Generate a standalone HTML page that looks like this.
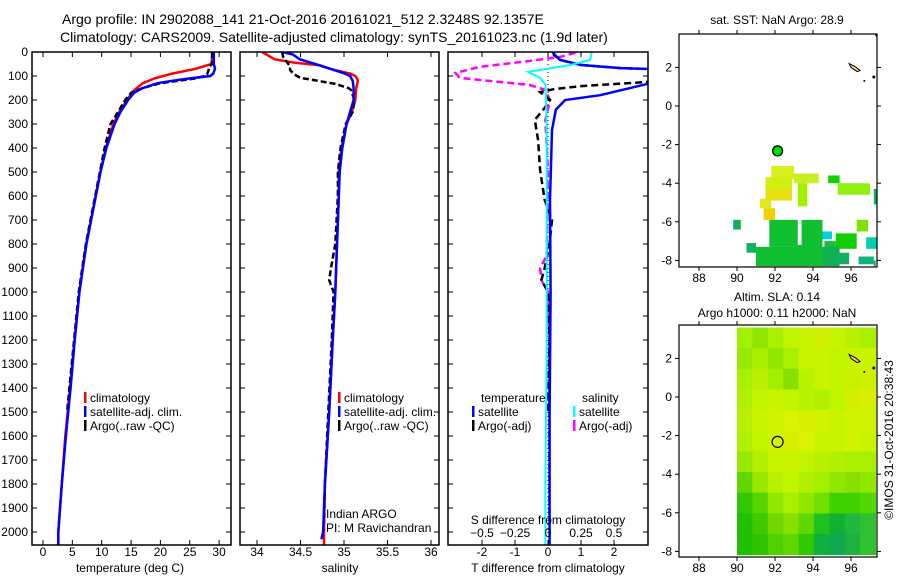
<!DOCTYPE html>
<html><head><meta charset="utf-8">
<style>
html,body{margin:0;padding:0;background:#fff;}
svg{display:block;font-family:"Liberation Sans",sans-serif;}
text{fill:#000;}
</style></head>
<body>
<svg id="fig" width="900" height="580" viewBox="0 0 900 580" xmlns="http://www.w3.org/2000/svg">
<text x="62" y="24" font-size="14">Argo profile: IN 2902088_141 21-Oct-2016 20161021_512 2.3248S 92.1357E</text>
<text x="60" y="42" font-size="14">Climatology: CARS2009. Satellite-adjusted climatology: synTS_20161023.nc (1.9d later)</text>
<g id="g1"></g>
<g id="g2"></g>
<g id="g3"></g>
<g id="m1"></g>
<g id="m2"></g>
<text x="777" y="24" font-size="12" text-anchor="middle">sat. SST: NaN Argo: 28.9</text>
<text x="777" y="301" font-size="12" text-anchor="middle">Altim. SLA: 0.14</text>
<text x="777" y="317" font-size="12" text-anchor="middle">Argo h1000: 0.11 h2000: NaN</text>
<text transform="translate(893,440) rotate(-90)" font-size="12" text-anchor="middle">©IMOS 31-Oct-2016 20:38:43</text>
</svg>
<script>
// ---- depth ticks ----
const depthTicks = [0,100,200,300,400,500,600,700,800,900,1000,1100,1200,1300,1400,1500,1600,1700,1800,1900,2000];
// ---- temperature panel data ----
const tempTicks = [0,5,10,15,20,25,30];
const tClimDepth = [0,50,70,90,110,130,160,200,250,300,400,500,600,700,800,900,1000,1200,1400,1600,1800,2000,2055];
const tClimVal   = [28.9,28.7,26,22,19,17,15.5,14.3,13,12,10.7,9.8,9.0,8.2,7.4,6.8,6.2,5.4,4.6,3.8,3.2,2.6,2.6];
const tSatDepth  = [0,50,70,90,100,110,120,130,150,170,200,250,300,400,500,600,700,800,900,1000,1200,1400,1600,1800,2000,2055];
const tSatVal    = [29.1,29.1,29.3,29.0,28.5,25,22,19.5,17,15.5,14.5,13.2,12.2,10.8,9.8,9.0,8.2,7.4,6.8,6.2,5.4,4.7,3.9,3.2,2.6,2.6];
const tArgoDepth = [0,50,60,90,100,110,120,130,150,170,200,250,300,400,500,600,700,800,900,1000,1200,1400,1500];
const tArgoVal   = [28.8,28.8,28.4,28.0,27.5,26,23,20,17,15,14,12.8,11.5,10.5,9.7,8.9,8.1,7.3,6.7,6.1,5.3,4.5,4.1];
// ---- salinity panel data ----
const salTicks = [34,34.5,35,35.5,36];
const sClimDepth = [0,30,45,55,70,80,90,100,110,120,150,200,250,300,400,500,600,800,1000,1200,1500,1800,2000,2055];
const sClimVal   = [34.06,34.2,34.44,34.72,34.84,34.95,35.07,35.13,35.15,35.16,35.14,35.13,35.09,35.03,34.97,34.94,34.94,34.92,34.9,34.87,34.83,34.78,34.77,34.77];
const sSatDepth  = [0,10,30,50,70,90,100,120,150,200,300,400,500,600,800,1000,1200,1500,1800,2000,2030];
const sSatVal    = [34.29,34.41,34.49,34.67,34.84,35.01,35.07,35.10,35.11,35.11,35.03,34.98,34.95,34.94,34.92,34.9,34.87,34.83,34.78,34.76,34.74];
const sArgoDepth = [0,20,40,60,75,90,100,108,120,133,150,158,200,250,300,400,500,600,800,900,950,1000,1200,1500,1800,1950];
const sArgoVal   = [34.29,34.3,34.34,34.38,34.38,34.42,34.46,34.5,34.7,34.9,35.05,35.08,35.12,35.1,35.02,34.96,34.93,34.93,34.9,34.85,34.83,34.88,34.86,34.82,34.78,34.77];
// ---- difference panel data ----
const tDiffTicks = [-2,-1,0,1,2];
const sDiffTicks = [-0.5,-0.25,0,0.25,0.5];
const dTSatDepth = [0,4,33,54,67,75,100,130,180,200,240,325,617,1000,1500,2055];
const dTSatVal   = [0.15,0.15,0.36,1,2.2,4,4,3.1,1.58,0.52,0.24,0.12,0.06,0.08,0.05,0.05];
const dTArgoDepth= [0,12,33,54,67,75,100,125,142,154,167,200,233,283,367,492,617,700,800,900,950,1000,1200,1500];
const dTArgoVal  = [0.18,0.18,0.36,1,2.2,4,4,3.0,1.0,0.2,-0.24,0.06,-0.1,-0.4,-0.3,-0.24,-0.1,0.12,0.05,-0.1,-0.2,0.0,0.05,0.0];
const dSSatDepth = [0,4,33,54,75,83,108,137,200,300,800,1200,1800,2055];
const dSSatVal   = [0.33,0.33,0.32,0.17,-0.06,-0.15,-0.06,-0.02,-0.015,-0.01,-0.01,-0.01,-0.02,-0.02];
const dSArgoDepth= [0,4,21,42,62,87,108,125,137,158,200,283,500,850,900,950,1000,1200,1500,1950];
const dSArgoVal  = [0.2,0.2,0.09,-0.21,-0.52,-0.7,-0.67,-0.36,-0.14,-0.02,0.015,-0.02,0.0,-0.01,-0.06,-0.05,0.0,0.01,0.01,0.01];
// ---- maps ----
const lonTicks = [88,90,92,94,96];
const latTicks = [2,0,-2,-4,-6,-8];
const argoLon = 92.1357, argoLat = -2.3248;
// SST patches: [lonW, latN, width(deg), height(deg), color]
const sstLon = [91.8,91.5,93.0,93.2,94.8,95.3,91.5,91.2,97.2,91.4,89.8,91.7,93.4,94.5,95.2,96.3,94.6,96.8,90.5,91.0,93.0,94.5,95.2,96.4,97.2];
const sstLat = [-3.1,-3.7,-3.5,-4.0,-3.6,-4.0,-4.3,-4.8,-4.3,-5.3,-5.9,-5.9,-5.9,-6.5,-6.6,-5.9,-7.0,-6.8,-7.1,-7.3,-7.2,-7.3,-7.6,-7.8,-8.0];
const sstW   = [1.2,1.4,1.3,0.5,0.6,1.7,1.4,0.6,0.2,0.6,0.4,1.5,1.1,0.5,1.1,0.6,0.6,0.6,0.5,2.0,1.5,0.9,0.7,0.8,0.1];
const sstH   = [0.7,0.6,0.5,1.2,0.4,0.6,0.6,0.5,0.8,0.6,0.5,1.4,1.4,0.4,0.8,0.6,0.8,0.6,0.5,1.0,1.1,1.0,0.6,0.4,0.3];
const sstCol = ["#d8f020","#d0f010","#c8f020","#a0f000","#10d000","#90f010","#e8e010","#e0e820","#10b060","#f0d000","#10b060","#10c030","#10c030","#00d0e0","#10d000","#80e000","#10c040","#00d0b0","#10b060","#10c030","#10c030","#10b050","#10b060","#10b080","#10b060"];
// SLA field rows (north->south), columns lon 90..97.2 step 0.8
const slaRows = [
 ["#a0f000","#90e800","#a8f000","#c0f400","#c8f400","#d0f000","#c8f400","#b8f000","#a8f000"],
 ["#98e800","#a8f000","#90e800","#a8f000","#c8f400","#c8f400","#c0f400","#c8f400","#c8f400"],
 ["#a8f000","#b8f000","#a0f000","#88e000","#b8f400","#c8f400","#c0f400","#c8f000","#d0f000"],
 ["#b0f000","#c0f400","#c8f400","#c0f400","#b8f400","#b0f000","#c0f400","#d0f000","#d8f000"],
 ["#b8f000","#c8f400","#d0f400","#d8f400","#d8f000","#d0f400","#c8f400","#d0f400","#d0f400"],
 ["#b0f000","#c0f400","#d0f400","#d8f000","#d8f400","#c8f400","#c8f400","#d0f400","#c8f400"],
 ["#98e800","#b0f000","#c8f400","#c8f400","#c0f400","#b8f000","#b0f000","#a8f000","#a8f000"],
 ["#60d800","#98e800","#b8f000","#c0f400","#b0f000","#a0f000","#90e800","#88e000","#90e800"],
 ["#30c800","#58d400","#90e800","#a8f000","#90e800","#70e000","#40d000","#40d000","#50d800"],
 ["#20c000","#40c800","#70d800","#88e000","#60d800","#20c020","#10b030","#20b840","#30c030"],
 ["#20c000","#30c400","#50d000","#60d800","#30c800","#10b040","#10a850","#20b040","#30c030"]
];
const slaLat0 = 3.6, slaLatStep = 1.07, slaLon0 = 90, slaLonStep = 0.81;

const NS="http://www.w3.org/2000/svg";
function el(parent, tag, attrs){const e=document.createElementNS(NS,tag);for(const k in attrs)e.setAttribute(k,attrs[k]);parent.appendChild(e);return e;}
function txt(parent,x,y,s,anchor,size){const t=el(parent,'text',{x:x,y:y,'font-size':size||12,'text-anchor':anchor||'middle'});t.textContent=s;return t;}

// depth axis shared
const dY = d => 52 + d*0.24;

function profilePanel(g, x0, x1, xs, ticks, tickFmt, id){
  const clip=el(g,'clipPath',{id:'c'+id});
  el(clip,'rect',{x:x0,y:52,width:x1-x0,height:493});
  return clip;
}
function line(g, depth, vals, xs, color, dash, width, clipId, name){
  let d='';
  for(let i=0;i<depth.length;i++){d+=(i?'L':'M')+xs(vals[i]).toFixed(1)+','+dY(depth[i]).toFixed(1);}
  const p=el(g,'path',{d:d,fill:'none',stroke:color,'stroke-width':width,'clip-path':'url(#'+clipId+')'});
  if(dash)p.setAttribute('stroke-dasharray',dash);
  
  
  return p;
}
function frame(g,x0,x1,name){
  const r=el(g,'rect',{x:x0,y:52,width:x1-x0,height:493,fill:'none',stroke:'#000','stroke-width':1.5});
  
  
}
function xTicks(g, ticks, xs, yLab, fmt, topTicks){
  ticks.forEach(v=>{const x=xs(v);
    el(g,'line',{x1:x,x2:x,y1:545,y2:540,stroke:'#000'});
    if(topTicks) el(g,'line',{x1:x,x2:x,y1:52,y2:57,stroke:'#000'});
    const t=txt(g,x,yLab,fmt(v));
    
    
  });
}
function yTicks(g,x0,x1,labels){
  depthTicks.forEach(d=>{const y=dY(d);
    el(g,'line',{x1:x0,x2:x0+5,y1:y,y2:y,stroke:'#000'});
    el(g,'line',{x1:x1,x2:x1-5,y1:y,y2:y,stroke:'#000'});
    if(labels){const t=txt(g,28,y+4,String(d),'end');
      
      }
  });
}
function legend(g,x,y,color,label,name){
  el(g,'rect',{x:x,y:y-6,width:2.5,height:11,fill:color});
  const t=txt(g,x+6,y+4,label,'start');
  
  
}

// ---- Panel 1 temperature ----
const g1=document.getElementById('g1');
const xT = v => 43 + v*5.87;
profilePanel(g1,32,231,xT,null,null,1);
line(g1,tClimDepth,tClimVal,xT,'#ff0000',null,2.5,'c1','temp-climatology-line');
line(g1,tArgoDepth,tArgoVal,xT,'#000',"6,3",2.5,'c1','temp-argo-line');
line(g1,tSatDepth,tSatVal,xT,'#0000ff',null,2.5,'c1','temp-satellite-line');
frame(g1,32,231,'temp-axes-frame');
yTicks(g1,32,231,true);
xTicks(g1,tempTicks,xT,556,v=>String(v),true);
txt(g1,130,572,'temperature (deg C)');
legend(g1,84,398,'#ff0000','climatology','legend-climatology');
legend(g1,84,412,'#0000ff','satellite-adj. clim.','legend-satellite');
legend(g1,84,426,'#000','Argo(..raw -QC)','legend-argo');

// ---- Panel 2 salinity ----
const g2=document.getElementById('g2');
const xS = v => 257 + (v-34)*87;
profilePanel(g2,240,439,xS,null,null,2);
line(g2,sClimDepth,sClimVal,xS,'#ff0000',null,2.5,'c2','sal-climatology-line');
line(g2,sArgoDepth,sArgoVal,xS,'#000',"6,3",2.5,'c2','sal-argo-line');
line(g2,sSatDepth,sSatVal,xS,'#0000ff',null,2.5,'c2','sal-satellite-line');
frame(g2,240,439,'sal-axes-frame');
yTicks(g2,240,439,false);
xTicks(g2,salTicks,xS,556,v=>String(v),true);
txt(g2,340,572,'salinity');
legend(g2,338,398,'#ff0000','climatology','legend-climatology-2');
legend(g2,338,412,'#0000ff','satellite-adj. clim.','legend-satellite-2');
legend(g2,338,426,'#000','Argo(..raw -QC)','legend-argo-2');
txt(g2,326,518,'Indian ARGO','start');
txt(g2,326,532,'PI: M Ravichandran','start');

// ---- Panel 3 differences ----
const g3=document.getElementById('g3');
const xDT = v => 548 + v*33;
const xDS = v => 548 + v*132;
profilePanel(g3,448,648,xDT,null,null,3);
el(g3,'line',{x1:548,x2:548,y1:52,y2:545,stroke:'#000','stroke-dasharray':'1,3','stroke-width':1});
line(g3,dSArgoDepth,dSArgoVal,xDS,'#ff00ff',"7,4",2.5,'c3','sal-argo-diff-line');
line(g3,dTArgoDepth,dTArgoVal,xDT,'#000',"7,4",2.5,'c3','temp-argo-diff-line');
line(g3,dTSatDepth,dTSatVal,xDT,'#0000ff',null,2.5,'c3','temp-satellite-diff-line');
line(g3,dSSatDepth,dSSatVal,xDS,'#00ffff',null,2,'c3','sal-satellite-diff-line');
frame(g3,448,648,'diff-axes-frame');
yTicks(g3,448,648,false);
xTicks(g3,tDiffTicks,xDT,556,v=>String(v),true);
sDiffTicks.forEach(v=>{const x=xDS(v);el(g3,'line',{x1:x,x2:x,y1:545,y2:541,stroke:'#000'});
  const t=txt(g3,x,537,String(v).replace('-','\u2212'));
  
  });
txt(g3,548,524,'S difference from climatology');
txt(g3,548,572,'T difference from climatology');
txt(g3,481,402,'temperature','start');
txt(g3,582,402,'salinity','start');
legend(g3,472,412,'#0000ff','satellite','legend-temp-satellite');
legend(g3,472,426,'#000','Argo(-adj)','legend-temp-argo');
legend(g3,573,412,'#00ffff','satellite','legend-sal-satellite');
legend(g3,573,426,'#ff00ff','Argo(-adj)','legend-sal-argo');

// ---- Maps ----
function mapFrame(g, top, bottom, id){
  const xL = lon => 699 + (lon-88)*19;
  const lat0 = top + 72;  // y of lat 0
  const yL = lat => lat0 - lat*19.3;
  const clip=el(g,'clipPath',{id:'mc'+id});
  el(clip,'rect',{x:679,y:top,width:198,height:bottom-top});
  return {xL,yL,clip:'url(#mc'+id+')'};
}
function mapAxes(g, top, bottom, m, name){
  const r=el(g,'rect',{x:679,y:top,width:198,height:bottom-top,fill:'none',stroke:'#000','stroke-width':1.2});
  
  
  lonTicks.forEach(l=>{const x=m.xL(l);
    el(g,'line',{x1:x,x2:x,y1:top,y2:top-4,stroke:'#000'});
    el(g,'line',{x1:x,x2:x,y1:bottom,y2:bottom+4,stroke:'#000'});
    const t=txt(g,x,bottom+15,String(l));
    
    });
  latTicks.forEach(l=>{const y=m.yL(l);
    el(g,'line',{x1:679,x2:675,y1:y,y2:y,stroke:'#000'});
    el(g,'line',{x1:877,x2:881,y1:y,y2:y,stroke:'#000'});
    const t=txt(g,672,y+4,String(l),'end');
    
    });
}
function islands(g,m){
  const gi=el(g,'g',{'clip-path':m.clip});
  el(gi,'path',{d:`M${m.xL(95.9)},${m.yL(2.2)} l6,3 l5,4 l-3,1 l-6,-4 z`,fill:'#ffc890',stroke:'#000','stroke-width':1});
  el(gi,'path',{d:`M875,34 l4,0 l0,6 z`,fill:'#ffc890',stroke:'#000'});
  el(gi,'circle',{cx:m.xL(96.7),cy:m.yL(1.3),r:1,fill:'#000'});
  el(gi,'circle',{cx:m.xL(97.2),cy:m.yL(1.5),r:1.5,fill:'#000'});
}
const m1g=document.getElementById('m1');
const M1=mapFrame(m1g,34,267,1);
const p1=el(m1g,'g',{'clip-path':M1.clip});
for(let i=0;i<sstLon.length;i++){
  const r=el(p1,'rect',{x:M1.xL(sstLon[i]),y:M1.yL(sstLat[i]),width:sstW[i]*19,height:sstH[i]*19.3,fill:sstCol[i]});
  
  
}
islands(m1g,M1);
const a1=el(m1g,'circle',{cx:M1.xL(argoLon),cy:M1.yL(argoLat),r:5,fill:'#00dd00',stroke:'#000','stroke-width':1.2});


mapAxes(m1g,34,267,M1,'sst-map-frame');

const m2g=document.getElementById('m2');
const M2=mapFrame(m2g,325,557,2);
const p2=el(m2g,'g',{'clip-path':M2.clip});
slaRows.forEach((row,ri)=>row.forEach((c,ci)=>{
  const r=el(p2,'rect',{x:M2.xL(slaLon0+ci*slaLonStep),y:M2.yL(slaLat0-ri*slaLatStep),width:slaLonStep*19+0.5,height:slaLatStep*19.3+0.5,fill:c});
  
  
}));
islands(m2g,M2);
const a2=el(m2g,'circle',{cx:M2.xL(argoLon),cy:M2.yL(argoLat),r:5.5,fill:'none',stroke:'#000','stroke-width':1.2});


mapAxes(m2g,325,557,M2,'sla-map-frame');
</script>
</body></html>
